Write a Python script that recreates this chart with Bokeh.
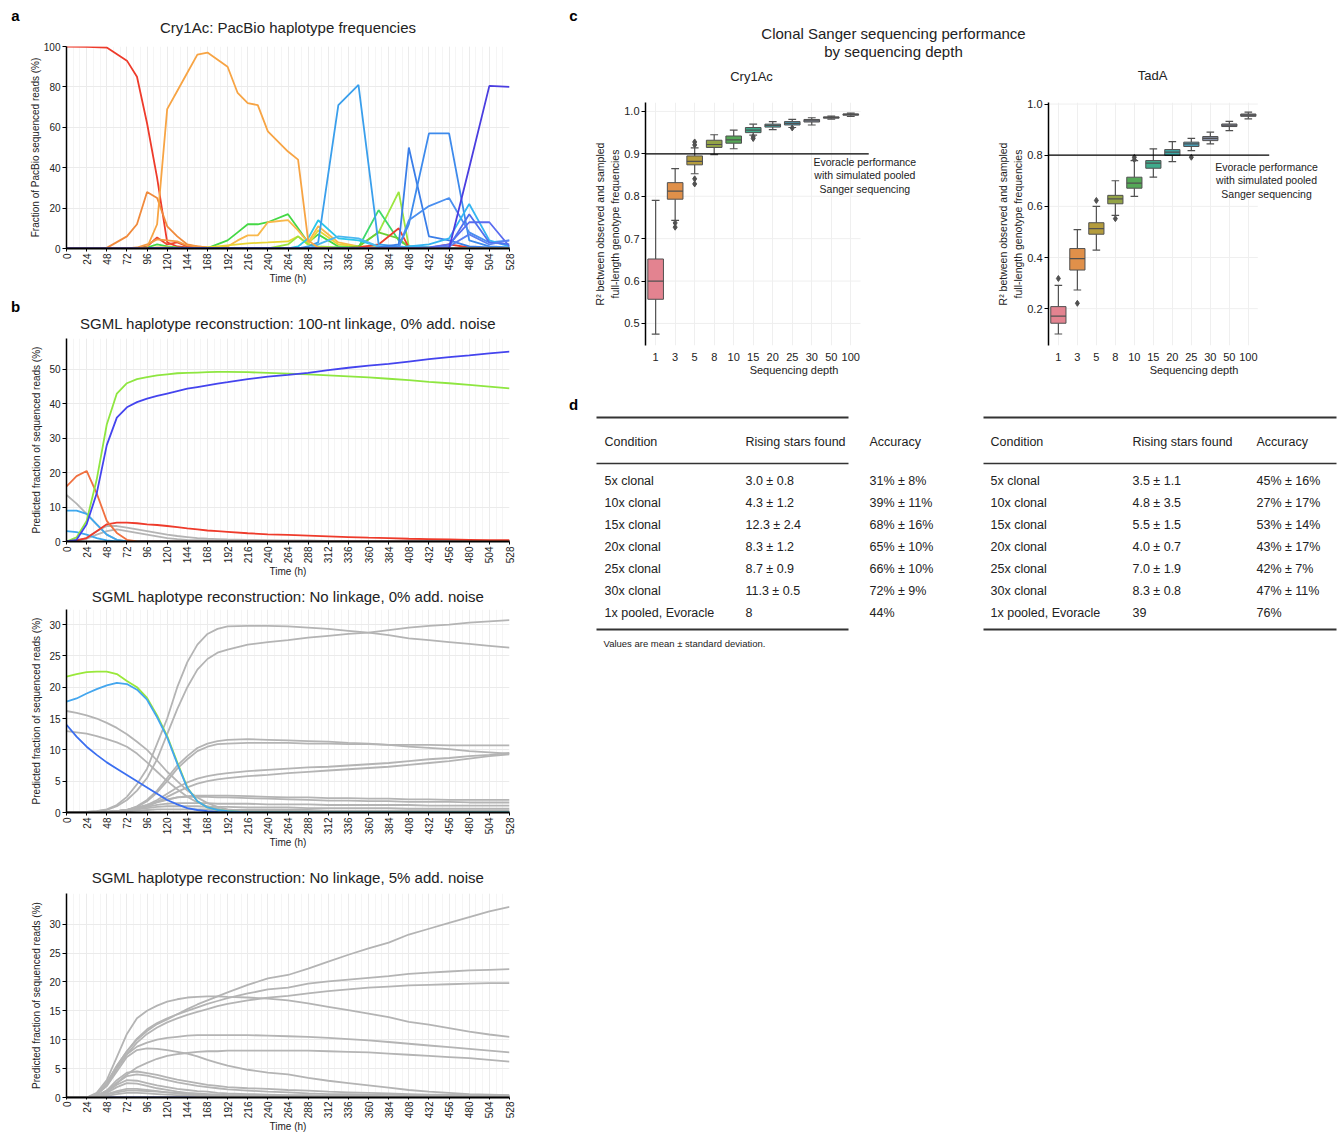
import math
from bokeh.plotting import figure
from bokeh.models import FixedTicker, Title, Label, ColumnDataSource, Range1d
from bokeh.layouts import column, row
from bokeh.embed import file_html
from bokeh.resources import INLINE
from bokeh.core.properties import value

FONT = "Liberation Sans"

# ---------------- DATA ----------------
time_ticks = [0, 24, 48, 72, 96, 120, 144, 168, 192, 216, 240, 264, 288, 312, 336, 360, 384, 408, 432, 456, 480, 504, 528]

# panel a : PacBio haplotype frequencies (%)
a_times = [0, 24, 48, 72, 84, 96, 108, 120, 132, 144, 156, 168, 192, 204, 216, 228, 240, 264, 276, 288, 300, 324, 348, 372, 396, 408, 432, 456, 480, 504, 528]
a_red     = [100, 99.8, 99.5, 93, 85, 62, 35, 3, 1, 0.5, 0.3, 0.2, 0, 0, 0, 0, 0, 0, 0, 0, 0, 0, 0, 0, 0, 0, 0, 0, 0, 0, 0]
a_orange  = [0, 0, 0, 0, 0, 0.5, 12, 69, 78, 87, 96, 97, 90, 77, 72, 71, 58, 48, 44, 4, 0.5, 0, 0, 0, 0, 0, 0, 0, 0, 0, 0]
a_orange2 = [0, 0, 0.3, 6, 12, 28, 25, 11, 6, 2, 1, 0.5, 0.3, 0, 0, 0, 0, 0, 0, 0, 0, 0, 0, 0, 0, 0, 0, 0, 0, 0, 0]
a_red2    = [0, 0, 0, 0, 0, 1, 5.5, 2, 3, 1, 0.5, 0.3, 0, 0, 0, 0, 0, 0, 0, 0, 0, 0, 0, 0, 0, 0, 0, 0, 0, 0, 0]
a_orange3 = [0, 0, 0, 0, 0.5, 2, 4.5, 4, 3.5, 1.5, 1, 0.5, 0, 0, 0, 0, 0, 0, 0, 0, 0, 0, 0, 0, 0, 0, 0, 0, 0, 0, 0]
a_green   = [0, 0, 0, 0, 0, 0.5, 2, 1, 0.5, 0.3, 0.2, 0.2, 4, 8, 12, 12, 13, 17, 10, 3, 7, 1, 0.5, 0, 0, 0, 0, 0, 0, 0, 0]
a_yorange = [0, 0, 0, 0, 0, 0, 0.5, 0.5, 0.3, 0.2, 0.2, 0.3, 1, 4, 6.5, 6.5, 13, 14, 9, 3, 11, 3, 1, 0.5, 0.3, 0, 0, 0, 0, 0, 0]
a_yellow  = [0, 0, 0, 0, 0, 0, 0, 0, 0, 0, 0, 0.5, 1.5, 2, 2.5, 2.8, 3, 3.5, 6, 2, 9, 2, 1, 0.5, 0.3, 0, 0, 0, 0, 0, 0]
a_lgreen  = [0, 0, 0, 0, 0, 0, 0, 0, 0, 0, 0, 0, 0, 0, 0, 0, 0, 2, 6, 2, 1, 0.5, 1, 8, 28, 1, 0.5, 0.3, 0.2, 0, 0]
a_green2  = [0, 0, 0, 0, 0, 0, 0, 0, 0, 0, 0, 0, 0, 0, 0, 0, 0, 0, 0, 0, 0, 0.5, 0.5, 19, 4, 1, 0.5, 0.3, 0.2, 0, 0]
a_green3  = [0, 0, 0, 0, 0, 0, 0, 0, 0, 0, 0, 0, 0, 0, 0, 0, 0, 0, 0, 0, 0, 0, 1, 8, 5, 0.5, 0.3, 0.2, 0.1, 0, 0]
a_red3    = [0, 0, 0, 0, 0, 0, 0, 0, 0, 0, 0, 0, 0, 0, 0, 0, 0, 0, 0, 0, 0, 0, 0.5, 2, 10, 0.5, 0.3, 2, 0.5, 0, 0]
a_cyan    = [0, 0, 0, 0, 0, 0, 0, 0, 0, 0, 0, 0, 0, 0, 0, 0, 0, 0, 1, 5, 14, 5, 4, 1, 0.5, 0.5, 0.3, 0.3, 0.2, 0, 0]
a_sky     = [0, 0, 0, 0, 0, 0, 0, 0, 0, 0, 0, 0, 0, 0, 0, 0, 0, 0, 0, 1, 3, 71, 81, 2, 1, 0.5, 0.3, 0.2, 0.2, 0, 0]
a_cyan2   = [0, 0, 0, 0, 0, 0, 0, 0, 0, 0, 0, 0, 0, 0, 0, 0, 0, 0, 0, 0, 2, 6, 5, 1, 0.5, 1, 0.5, 0.3, 0.2, 0.1, 0]
a_blue1   = [0, 0, 0, 0, 0, 0, 0, 0, 0, 0, 0, 0, 0, 0, 0, 0, 0, 0, 0, 0, 0, 0, 0, 0.5, 2, 50, 6, 4, 1, 0.5, 0.3]
a_blue2   = [0, 0, 0, 0, 0, 0, 0, 0, 0, 0, 0, 0, 0, 0, 0, 0, 0, 0, 0, 0, 0, 0, 0, 0.3, 1, 12, 57, 57, 4, 1, 0.5]
a_blue3   = [0, 0, 0, 0, 0, 0, 0, 0, 0, 0, 0, 0, 0, 0, 0, 0, 0, 0, 0, 0, 0, 0, 0, 0, 0.5, 14, 21, 25, 8, 3, 4]
a_cyan3   = [0, 0, 0, 0, 0, 0, 0, 0, 0, 0, 0, 0, 0, 0, 0, 0, 0, 0, 0, 0, 0, 0, 0, 0, 0, 1, 2, 5, 22, 4, 1]
a_blue4   = [0, 0, 0, 0, 0, 0, 0, 0, 0, 0, 0, 0, 0, 0, 0, 0, 0, 0, 0, 0, 0, 0, 0, 0, 0, 0, 0.5, 2, 13, 13, 1]
a_blue5   = [0, 0, 0, 0, 0, 0, 0, 0, 0, 0, 0, 0, 0, 0, 0, 0, 0, 0, 0, 0, 0, 0, 0, 0, 0, 0, 0.3, 1, 17, 3, 2]
a_blue6   = [0, 0, 0, 0, 0, 0, 0, 0, 0, 0, 0, 0, 0, 0, 0, 0, 0, 0, 0, 0, 0, 0, 0, 0, 0, 0, 0, 1, 7, 2, 4]
a_indigo  = [0, 0, 0, 0, 0, 0, 0, 0, 0, 0, 0, 0, 0, 0, 0, 0, 0, 0, 0, 0, 0, 0, 0, 0, 0, 0, 0, 0, 40, 80.5, 80]

# panel b : SGML reconstructions (%)
b_times = [0, 12, 24, 36, 48, 60, 72, 84, 96, 108, 120, 132, 144, 156, 168, 180, 192, 216, 240, 264, 288, 312, 336, 360, 384, 408, 432, 456, 480, 504, 528]

b1_green  = [0, 1.2, 6, 18, 34, 43, 46, 47.2, 47.8, 48.3, 48.6, 48.9, 49.0, 49.1, 49.2, 49.3, 49.3, 49.2, 49.0, 48.8, 48.6, 48.3, 48.0, 47.7, 47.3, 46.9, 46.4, 46.0, 45.5, 45.0, 44.5]
b1_blue   = [0, 0.5, 5, 14, 28, 36, 39, 40.5, 41.5, 42.3, 43.0, 43.7, 44.4, 44.9, 45.4, 45.9, 46.3, 47.2, 47.9, 48.4, 49.0, 49.8, 50.5, 51.1, 51.6, 52.3, 53.0, 53.6, 54.1, 54.7, 55.2]
b1_orange = [16, 19, 20.5, 14, 6, 2.5, 0.5, 0, 0, 0, 0, 0, 0, 0, 0, 0, 0, 0, 0, 0, 0, 0, 0, 0, 0, 0, 0, 0, 0, 0, 0]
b1_red    = [0, 0.3, 1, 3, 5, 5.5, 5.5, 5.3, 5.0, 4.8, 4.5, 4.2, 3.8, 3.5, 3.2, 3.0, 2.8, 2.4, 2.1, 1.9, 1.7, 1.5, 1.3, 1.1, 1.0, 0.8, 0.7, 0.6, 0.5, 0.4, 0.4]
b1_gray1  = [13.5, 11, 8, 5, 2, 0.5, 0.1, 0, 0, 0, 0, 0, 0, 0, 0, 0, 0, 0, 0, 0, 0, 0, 0, 0, 0, 0, 0, 0, 0, 0, 0]
b1_gray2  = [0, 0.3, 1, 3, 4.5, 4.5, 4, 3.5, 3, 2.5, 2, 1.6, 1.3, 1.0, 0.8, 0.7, 0.6, 0.5, 0.4, 0.3, 0.3, 0.2, 0.2, 0.2, 0.1, 0.1, 0.1, 0.1, 0.1, 0.1, 0.1]
b1_gray3  = [0, 0.2, 0.8, 2, 3, 3.5, 3, 2.5, 2, 1.5, 1, 0.7, 0.5, 0.4, 0.3, 0.2, 0.2, 0.1, 0.1, 0, 0, 0, 0, 0, 0, 0, 0, 0, 0, 0, 0]
b1_sky    = [9, 9, 8, 5, 2, 0.5, 0, 0, 0, 0, 0, 0, 0, 0, 0, 0, 0, 0, 0, 0, 0, 0, 0, 0, 0, 0, 0, 0, 0, 0, 0]
b1_sky2   = [3, 2.7, 2, 1, 0.3, 0, 0, 0, 0, 0, 0, 0, 0, 0, 0, 0, 0, 0, 0, 0, 0, 0, 0, 0, 0, 0, 0, 0, 0, 0, 0]

b2_g1  = [16.2, 15.9, 15.5, 15.0, 14.3, 13.5, 12.5, 11.3, 10.0, 8.3, 6.5, 5.0, 3.5, 2.4, 1.5, 0.9, 0.5, 0.2, 0.1, 0, 0, 0, 0, 0, 0, 0, 0, 0, 0, 0, 0]
b2_g2  = [13.0, 12.8, 12.6, 12.2, 11.7, 11.2, 10.5, 9.4, 8.0, 6.5, 5.0, 3.7, 2.5, 1.6, 1.0, 0.6, 0.3, 0.1, 0, 0, 0, 0, 0, 0, 0, 0, 0, 0, 0, 0, 0]
b2_g3  = [0, 0, 0.1, 0.2, 0.5, 1.2, 2.5, 4.5, 7, 11, 15, 20, 24, 26.8, 28.5, 29.3, 29.7, 29.8, 29.8, 29.7, 29.5, 29.3, 29.0, 28.7, 28.3, 27.8, 27.5, 27.2, 26.9, 26.6, 26.3]
b2_g4  = [0, 0, 0.1, 0.2, 0.4, 1.0, 2.0, 3.5, 5.5, 8.5, 12.5, 16.5, 20, 22.8, 24.5, 25.5, 26, 26.8, 27.2, 27.5, 27.9, 28.2, 28.5, 28.7, 29.1, 29.5, 29.8, 30.0, 30.3, 30.5, 30.7]
b2_g5  = [0, 0, 0, 0, 0.1, 0.2, 0.4, 1.0, 2.0, 3.5, 5.5, 7.5, 9.0, 10.3, 11.0, 11.4, 11.6, 11.7, 11.6, 11.5, 11.4, 11.3, 11.1, 11.0, 10.8, 10.5, 10.3, 10.1, 9.8, 9.6, 9.4]
b2_g6  = [0, 0, 0, 0, 0.1, 0.2, 0.4, 0.9, 1.8, 3.2, 5.0, 7.0, 8.5, 9.8, 10.5, 10.9, 11.0, 11.1, 11.1, 11.1, 11.0, 11.0, 10.9, 10.9, 10.8, 10.8, 10.8, 10.7, 10.7, 10.7, 10.7]
b2_g7  = [0, 0, 0, 0, 0.1, 0.2, 0.3, 0.6, 1.2, 2.0, 3.0, 4.0, 4.8, 5.4, 5.8, 6.1, 6.3, 6.6, 6.8, 7.0, 7.2, 7.3, 7.5, 7.7, 7.9, 8.2, 8.5, 8.7, 9.0, 9.2, 9.5]
b2_g8  = [0, 0, 0, 0, 0.1, 0.2, 0.3, 0.5, 1.0, 1.7, 2.5, 3.3, 4.0, 4.6, 5.0, 5.3, 5.5, 5.8, 6.0, 6.3, 6.5, 6.7, 6.9, 7.1, 7.3, 7.6, 7.9, 8.2, 8.6, 9.0, 9.3]
b2_g9  = [0, 0, 0, 0, 0.1, 0.2, 0.4, 0.7, 1.1, 1.6, 2.0, 2.4, 2.6, 2.7, 2.7, 2.7, 2.7, 2.6, 2.5, 2.4, 2.4, 2.3, 2.3, 2.2, 2.2, 2.1, 2.1, 2.0, 2.0, 2.0, 2.0]
b2_g10 = [0, 0, 0, 0, 0.1, 0.2, 0.4, 0.8, 1.2, 1.7, 2.1, 2.4, 2.5, 2.5, 2.5, 2.4, 2.4, 2.3, 2.2, 2.1, 2.0, 1.9, 1.9, 1.8, 1.8, 1.7, 1.7, 1.7, 1.6, 1.6, 1.6]
b2_g11 = [0, 0, 0, 0, 0.1, 0.2, 0.4, 0.6, 0.9, 1.2, 1.4, 1.5, 1.5, 1.5, 1.5, 1.4, 1.4, 1.4, 1.3, 1.3, 1.3, 1.2, 1.2, 1.2, 1.2, 1.2, 1.1, 1.1, 1.1, 1.1, 1.1]
b2_g12 = [0, 0, 0, 0, 0.1, 0.1, 0.3, 0.5, 0.7, 0.9, 1.0, 1.0, 1.0, 1.0, 0.9, 0.9, 0.9, 0.8, 0.8, 0.8, 0.7, 0.7, 0.7, 0.7, 0.7, 0.6, 0.6, 0.6, 0.6, 0.6, 0.6]
b2_g13 = [0, 0, 0, 0, 0, 0.1, 0.2, 0.3, 0.4, 0.5, 0.5, 0.5, 0.5, 0.5, 0.5, 0.4, 0.4, 0.4, 0.4, 0.4, 0.4, 0.3, 0.3, 0.3, 0.3, 0.3, 0.3, 0.3, 0.3, 0.3, 0.3]
b2_blue  = [14, 12.1, 10.5, 9.2, 8.0, 7.0, 6.0, 5.0, 4.0, 3.0, 2.0, 1.3, 0.7, 0.4, 0.2, 0.1, 0.05, 0, 0, 0, 0, 0, 0, 0, 0, 0, 0, 0, 0, 0, 0]
b2_green = [21.7, 22.1, 22.4, 22.5, 22.5, 22.1, 21.0, 20.0, 18.3, 15.5, 12.2, 8.0, 4.0, 1.8, 0.8, 0.4, 0.2, 0, 0, 0, 0, 0, 0, 0, 0, 0, 0, 0, 0, 0, 0]
b2_sky   = [17.7, 18.2, 19.0, 19.7, 20.3, 20.7, 20.5, 19.6, 18.0, 15.2, 12.0, 7.8, 3.9, 1.8, 0.8, 0.4, 0.2, 0, 0, 0, 0, 0, 0, 0, 0, 0, 0, 0, 0, 0, 0]

b3_h1  = [0, 0, 0, 0.5, 2.5, 5.5, 8, 10, 11.5, 12.7, 13.5, 14.4, 15.3, 16.1, 16.8, 17.5, 18.2, 19.5, 20.6, 21.2, 22.3, 23.5, 24.7, 25.8, 26.8, 28.2, 29.2, 30.2, 31.2, 32.2, 33.0]
b3_h2  = [0, 0, 0, 0.5, 2.5, 5.5, 8, 10.2, 11.8, 12.9, 13.7, 14.4, 15.0, 15.6, 16.2, 16.7, 17.2, 18.0, 18.7, 19.0, 19.7, 20.1, 20.4, 20.7, 21.0, 21.4, 21.6, 21.8, 22.0, 22.1, 22.2]
b3_h3  = [0, 0, 0, 0.5, 2.3, 5, 7.5, 9.5, 11.0, 12.1, 13.0, 13.7, 14.3, 14.8, 15.3, 15.8, 16.2, 16.8, 17.3, 17.6, 18.0, 18.4, 18.7, 19.0, 19.2, 19.4, 19.5, 19.6, 19.7, 19.8, 19.8]
b3_h4  = [0, 0, 0, 0.8, 3, 7, 11, 13.7, 15.0, 15.9, 16.6, 17.0, 17.3, 17.4, 17.5, 17.5, 17.4, 17.3, 17.1, 16.8, 16.3, 15.7, 15.1, 14.5, 13.9, 13.1, 12.6, 12.0, 11.4, 10.9, 10.5]
b3_h5  = [0, 0, 0, 0.5, 2, 5, 7.5, 8.8, 9.5, 10.0, 10.3, 10.5, 10.7, 10.8, 10.8, 10.8, 10.8, 10.8, 10.7, 10.6, 10.5, 10.3, 10.1, 9.9, 9.6, 9.3, 9.0, 8.7, 8.4, 8.1, 7.8]
b3_h6  = [0, 0, 0, 0.3, 1.2, 2.5, 4, 5.2, 6.0, 6.7, 7.2, 7.5, 7.7, 7.9, 8.0, 8.0, 8.1, 8.1, 8.1, 8.1, 8.1, 8.0, 7.9, 7.8, 7.6, 7.4, 7.2, 7.0, 6.8, 6.5, 6.2]
b3_h7  = [0, 0, 0, 0.5, 2, 4.5, 7, 8.2, 8.5, 8.4, 8.2, 7.9, 7.6, 7.1, 6.5, 6.0, 5.5, 4.8, 4.3, 4.0, 3.4, 2.9, 2.5, 2.1, 1.7, 1.3, 1.0, 0.8, 0.6, 0.5, 0.4]
b3_h8  = [0, 0, 0, 0.3, 1.2, 3, 4.3, 4.5, 4.2, 3.9, 3.5, 3.1, 2.8, 2.5, 2.2, 2.0, 1.8, 1.6, 1.5, 1.3, 1.2, 1.0, 0.9, 0.8, 0.7, 0.6, 0.5, 0.5, 0.4, 0.4, 0.3]
b3_h9  = [0, 0, 0, 0.3, 1, 2.5, 3.7, 4.0, 3.8, 3.4, 3.0, 2.6, 2.3, 2.0, 1.8, 1.6, 1.4, 1.2, 1.0, 0.9, 0.7, 0.6, 0.6, 0.5, 0.5, 0.4, 0.4, 0.3, 0.3, 0.3, 0.3]
b3_h10 = [0, 0, 0, 0.3, 1, 2.2, 3.0, 2.9, 2.5, 2.1, 1.8, 1.5, 1.3, 1.1, 1.0, 0.8, 0.7, 0.6, 0.5, 0.4, 0.4, 0.3, 0.3, 0.3, 0.2, 0.2, 0.2, 0.2, 0.2, 0.2, 0.2]
b3_h11 = [0, 0, 0, 0.2, 0.8, 1.8, 2.5, 2.4, 2.0, 1.6, 1.3, 1.0, 0.8, 0.7, 0.6, 0.5, 0.4, 0.3, 0.3, 0.2, 0.2, 0.2, 0.2, 0.1, 0.1, 0.1, 0.1, 0.1, 0.1, 0.1, 0.1]
b3_h12 = [0, 0, 0, 0.2, 0.6, 1.1, 1.5, 1.5, 1.3, 1.1, 0.9, 0.7, 0.6, 0.5, 0.4, 0.3, 0.3, 0.2, 0.2, 0.2, 0.1, 0.1, 0.1, 0.1, 0.1, 0.1, 0.1, 0.1, 0.1, 0.1, 0.1]
b3_h13 = [0, 0, 0, 0.1, 0.5, 0.9, 1.2, 1.2, 1.1, 1.0, 0.9, 0.8, 0.7, 0.6, 0.5, 0.5, 0.4, 0.4, 0.3, 0.3, 0.3, 0.2, 0.2, 0.2, 0.2, 0.2, 0.2, 0.2, 0.2, 0.2, 0.2]
b3_h14 = [0, 0, 0, 0.1, 0.3, 0.6, 0.8, 0.8, 0.7, 0.6, 0.5, 0.4, 0.4, 0.3, 0.3, 0.3, 0.2, 0.2, 0.2, 0.2, 0.1, 0.1, 0.1, 0.1, 0.1, 0.1, 0.1, 0.1, 0.1, 0.1, 0.1]
b3_zero = [0, 0, 0, 0, 0, 0, 0, 0, 0, 0, 0, 0, 0, 0, 0, 0, 0, 0, 0, 0, 0, 0, 0, 0, 0, 0, 0, 0, 0, 0, 0]

# panel c : R^2 distributions by sequencing depth
depths = ["1", "3", "5", "8", "10", "15", "20", "25", "30", "50", "100"]
cry_q1  = [0.557, 0.793, 0.874, 0.915, 0.925, 0.950, 0.963, 0.968, 0.975, 0.984, 0.991]
cry_med = [0.600, 0.812, 0.882, 0.922, 0.933, 0.956, 0.967, 0.972, 0.978, 0.986, 0.993]
cry_q3  = [0.652, 0.832, 0.895, 0.932, 0.942, 0.962, 0.970, 0.976, 0.981, 0.987, 0.994]
cry_lo  = [0.475, 0.743, 0.853, 0.898, 0.912, 0.944, 0.957, 0.962, 0.968, 0.982, 0.988]
cry_hi  = [0.790, 0.865, 0.914, 0.945, 0.956, 0.970, 0.976, 0.981, 0.985, 0.989, 0.996]
cry_out_depth = ["3", "3", "5", "5", "5", "5", "15", "15", "25"]
cry_out_r2    = [0.737, 0.727, 0.928, 0.921, 0.841, 0.829, 0.940, 0.936, 0.961]
cry_evoracle = 0.9

tad_q1  = [0.143, 0.351, 0.491, 0.610, 0.671, 0.749, 0.799, 0.834, 0.857, 0.912, 0.952]
tad_med = [0.171, 0.396, 0.513, 0.629, 0.691, 0.769, 0.812, 0.844, 0.866, 0.917, 0.957]
tad_q3  = [0.208, 0.435, 0.536, 0.643, 0.714, 0.779, 0.822, 0.851, 0.873, 0.922, 0.961]
tad_lo  = [0.101, 0.273, 0.429, 0.565, 0.639, 0.714, 0.775, 0.818, 0.844, 0.896, 0.942]
tad_hi  = [0.291, 0.509, 0.600, 0.700, 0.779, 0.825, 0.853, 0.866, 0.890, 0.932, 0.968]
tad_out_depth = ["1", "3", "5", "8", "10", "10", "25"]
tad_out_r2    = [0.318, 0.221, 0.623, 0.552, 0.792, 0.783, 0.792]
tad_evoracle = 0.8

# panel d : tables
table_header = ["Condition", "Rising stars found", "Accuracy"]
conditions = ["5x clonal", "10x clonal", "15x clonal", "20x clonal", "25x clonal", "30x clonal", "1x pooled, Evoracle"]
cry_rising = ["3.0 ± 0.8", "4.3 ± 1.2", "12.3 ± 2.4", "8.3 ± 1.2", "8.7 ± 0.9", "11.3 ± 0.5", "8"]
cry_accuracy = ["31% ± 8%", "39% ± 11%", "68% ± 16%", "65% ± 10%", "66% ± 10%", "72% ± 9%", "44%"]
tad_rising = ["3.5 ± 1.1", "4.8 ± 3.5", "5.5 ± 1.5", "4.0 ± 0.7", "7.0 ± 1.9", "8.3 ± 0.8", "39"]
tad_accuracy = ["45% ± 16%", "27% ± 17%", "53% ± 14%", "43% ± 17%", "42% ± 7%", "47% ± 11%", "76%"]

# ---------------- STYLES ----------------
GRAY = "#b4b4b4"
TXT = "#222222"
a_series = [
    (a_red, "#ee3b2b"), (a_orange2, "#f08a3c"), (a_red2, "#ee4a30"), (a_orange3, "#f39a45"),
    (a_green, "#45d845"), (a_yorange, "#f9b84a"), (a_yellow, "#e9d535"), (a_lgreen, "#9be63f"),
    (a_green2, "#3fd96b"), (a_green3, "#6ccf35"), (a_red3, "#ea3e2d"), (a_cyan, "#2cc6ea"),
    (a_cyan2, "#4cb8f0"), (a_sky, "#3a9fec"), (a_blue1, "#3a7ee8"), (a_blue2, "#3d8aec"),
    (a_blue3, "#4a8ff0"), (a_cyan3, "#35b5f2"), (a_blue4, "#5a6cf0"), (a_blue5, "#4f70ee"),
    (a_blue6, "#5c80f0"), (a_orange, "#f7a444"), (a_indigo, "#4a3de0"),
]
b1_series = [(b1_gray3, GRAY), (b1_gray2, GRAY), (b1_gray1, GRAY), (b1_sky2, "#3fa8ee"), (b1_sky, "#3fa8ee"),
             (b1_red, "#ee3b2b"), (b1_orange, "#f07040"), (b1_green, "#8ee640"), (b1_blue, "#4444ee")]
b2_series = [(s, GRAY) for s in [b2_g13, b2_g12, b2_g11, b2_g10, b2_g9, b2_g8, b2_g7, b2_g6, b2_g5,
                                 b2_g4, b2_g3, b2_g2, b2_g1]] + [(b2_blue, "#3b6ff0"), (b2_green, "#99e83a"), (b2_sky, "#44a6ee")]
b3_series = [(b3_zero, "#2a3fa0")] + [(s, GRAY) for s in [b3_h14, b3_h13, b3_h12, b3_h11, b3_h10, b3_h9, b3_h8,
                                                          b3_h7, b3_h6, b3_h5, b3_h4, b3_h3, b3_h2, b3_h1]]
box_colors = ["#e38390", "#e0904a", "#b49c3d", "#93a346", "#55a857", "#3fab8c", "#3ea8a6", "#4a9fb8",
              "#8790a6", "#85869a", "#7a7a84"]

STRIP = 25  # width of the strip that holds the panel letters a / b


def blank_fig(width, height):
    p = figure(width=width, height=height, x_range=Range1d(0, width), y_range=Range1d(height, 0),
               output_backend="svg", toolbar_location=None, min_border=0,
               x_axis_location=None, y_axis_location=None)
    p.grid.visible = False
    p.outline_line_color = None
    return p


def put_text(p, xs, ys, texts, size, bold=False, align="center", color=TXT):
    p.text(x=xs, y=ys, text=texts, text_font=value(FONT), text_font_size=size,
           text_font_style="bold" if bold else "normal", text_align=align,
           text_baseline="middle", text_color=color)


def style_axis(ax, size="10px"):
    ax.major_label_text_font = FONT
    ax.major_label_text_font_size = size
    ax.major_label_text_color = TXT
    ax.axis_label_text_font = FONT
    ax.axis_label_text_font_size = size
    ax.axis_label_text_font_style = "normal"
    ax.axis_label_text_color = TXT
    ax.major_tick_line_color = "black"
    ax.major_tick_out = 4
    ax.major_tick_in = 0
    ax.minor_tick_line_color = None
    ax.axis_line_color = "black"
    ax.major_label_standoff = 2


def time_fig(height, left, top, bottom, ymax, yticks, title, ylabel, series, times, tstand, ylstand,
             tick_out=3, lab_stand=1):
    p = figure(width=540 - STRIP, height=height, x_range=Range1d(0, 528), y_range=Range1d(0, ymax),
               output_backend="svg", toolbar_location=None,
               min_border_left=left - STRIP, min_border_right=31, min_border_top=top, min_border_bottom=bottom)
    p.title.text = title
    p.title.align = "center"
    p.title.offset = -17
    p.title.text_font = FONT
    p.title.text_font_size = "15px"
    p.title.text_font_style = "normal"
    p.title.text_color = TXT
    p.title.standoff = tstand
    p.xaxis.ticker = FixedTicker(ticks=time_ticks, minor_ticks=list(range(0, 529, 8)))
    p.yaxis.ticker = FixedTicker(ticks=yticks)
    p.xaxis.major_label_orientation = math.pi / 2
    style_axis(p.xaxis[0])
    style_axis(p.yaxis[0])
    p.xaxis.major_tick_out = tick_out
    p.xaxis.major_label_standoff = lab_stand
    p.xaxis.axis_line_width = 2.2
    p.yaxis.axis_line_width = 1.5
    p.xaxis.axis_label = "Time (h)"
    p.xaxis.axis_label_standoff = 0
    p.yaxis.axis_label = ylabel
    p.yaxis.axis_label_standoff = ylstand
    p.xgrid.grid_line_color = "#ebebeb"
    p.xgrid.minor_grid_line_color = "#f5f5f5"
    p.ygrid.grid_line_color = "#ebebeb"
    p.outline_line_color = None
    src = ColumnDataSource(dict(xs=[times for _ in series], ys=[s for s, c in series], color=[c for s, c in series]))
    p.multi_line(xs="xs", ys="ys", line_color="color", line_width=1.8, source=src)
    return p


fa = time_fig(300, 66, 46, 52, 100, [0, 20, 40, 60, 80, 100], "Cry1Ac: PacBio haplotype frequencies",
              "Fraction of PacBio sequenced reads (%)", a_series, a_times, 22, 0)
fb1 = time_fig(280, 61, 38, 39, 59, [0, 10, 20, 30, 40, 50],
               "SGML haplotype reconstruction: 100-nt linkage, 0% add. noise",
               "Predicted fraction of sequenced reads (%)", b1_series, b_times, 14, 4)
fb2 = time_fig(278, 61, 28, 46, 32.4, [0, 5, 10, 15, 20, 25, 30],
               "SGML haplotype reconstruction: No linkage, 0% add. noise",
               "Predicted fraction of sequenced reads (%)", b2_series, b_times, 10, 4)
fb3 = time_fig(277, 61, 35, 37, 35.3, [0, 5, 10, 15, 20, 25, 30],
               "SGML haplotype reconstruction: No linkage, 5% add. noise",
               "Predicted fraction of sequenced reads (%)", b3_series, b_times, 16, 4, tick_out=2, lab_stand=0)

strip = blank_fig(STRIP, 1135)
put_text(strip, [15, 15], [15, 306], ["a", "b"], "15px", bold=True, color="black")

# ---- panel c header (letter, overall title, sub-titles) ----
hdr = blank_fig(802, 90)
put_text(hdr, [33], [15], ["c"], "15px", bold=True, color="black")
put_text(hdr, [353, 353], [33, 51], ["Clonal Sanger sequencing performance", "by sequencing depth"], "15px")
put_text(hdr, [211, 612], [76, 75], ["Cry1Ac", "TadA"], "13px")


def box_fig(width, left, x_end, hline_end, yr, yticks, q1, med, q3, lo, hi, od, ov, hline, ann_x, ann_y):
    xs = list(range(len(depths)))
    p = figure(width=width, height=295, x_range=Range1d(-0.52, x_end), y_range=Range1d(*yr),
               output_backend="svg", toolbar_location=None,
               min_border_left=left, min_border_right=3, min_border_top=12, min_border_bottom=40)
    p.add_layout(Title(text="full-length genotype frequencies", align="center", text_font=FONT,
                       text_font_size="10.5px", text_font_style="normal", text_color=TXT, standoff=1), "left")
    p.add_layout(Title(text="R² between observed and sampled", align="center", text_font=FONT,
                       text_font_size="10.5px", text_font_style="normal", text_color=TXT, standoff=1), "left")
    p.xaxis.ticker = FixedTicker(ticks=xs)
    p.xaxis.major_label_overrides = {i: d for i, d in enumerate(depths)}
    p.yaxis.ticker = FixedTicker(ticks=yticks)
    p.yaxis.major_label_overrides = {t: f"{t:.1f}" for t in yticks}
    style_axis(p.xaxis[0], "11px")
    style_axis(p.yaxis[0], "11px")
    p.xaxis.axis_line_color = None
    p.xaxis.major_tick_line_color = None
    p.xaxis.major_label_standoff = 3
    p.xaxis.axis_label = "Sequencing depth"
    p.xaxis.axis_label_standoff = 0
    p.yaxis.axis_line_width = 1.5
    p.xgrid.grid_line_color = "#efefef"
    p.ygrid.visible = False
    p.outline_line_color = None
    # horizontal grid lines limited to the box area
    p.segment(x0=[-0.52] * len(yticks), x1=[10.5] * len(yticks), y0=yticks, y1=yticks,
              line_color="#efefef", line_width=1)
    EDGE = "#505050"
    src = ColumnDataSource(dict(x=xs, q1=q1, med=med, q3=q3, lo=lo, hi=hi, color=box_colors,
                                xl=[x - 0.4 for x in xs], xr=[x + 0.4 for x in xs],
                                cl=[x - 0.2 for x in xs], cr=[x + 0.2 for x in xs]))
    p.segment(x0="x", y0="q3", x1="x", y1="hi", line_color=EDGE, line_width=1.2, source=src)
    p.segment(x0="x", y0="q1", x1="x", y1="lo", line_color=EDGE, line_width=1.2, source=src)
    p.segment(x0="cl", y0="hi", x1="cr", y1="hi", line_color=EDGE, line_width=1.2, source=src)
    p.segment(x0="cl", y0="lo", x1="cr", y1="lo", line_color=EDGE, line_width=1.2, source=src)
    p.vbar(x="x", width=0.8, top="q3", bottom="q1", fill_color="color", line_color=EDGE, line_width=1, source=src)
    p.segment(x0="xl", y0="med", x1="xr", y1="med", line_color=EDGE, line_width=1.2, source=src)
    p.scatter(x=[depths.index(d) for d in od], y=ov, marker="diamond", size=6, fill_color=EDGE, line_color=EDGE)
    p.segment(x0=[-0.52], x1=[hline_end], y0=[hline], y1=[hline], line_color="black", line_width=1.3)
    for t, y in zip(["Evoracle performance", "with simulated pooled", "Sanger sequencing"], ann_y):
        p.add_layout(Label(x=ann_x, y=y, text=t, text_align="center", text_baseline="middle",
                           text_font=FONT, text_font_size="10.5px", text_color=TXT))
    return p


fc1 = box_fig(405, 105, 14.7, 10.92, (0.448, 1.021), [0.5, 0.6, 0.7, 0.8, 0.9, 1.0],
              cry_q1, cry_med, cry_q3, cry_lo, cry_hi, cry_out_depth, cry_out_r2, cry_evoracle,
              10.72, [0.880, 0.849, 0.818])
fc2 = box_fig(397, 103, 14.8, 11.1, (0.056, 1.006), [0.2, 0.4, 0.6, 0.8, 1.0],
              tad_q1, tad_med, tad_q3, tad_lo, tad_hi, tad_out_depth, tad_out_r2, tad_evoracle,
              10.96, [0.755, 0.704, 0.650])

# ---- panel d tables ----
fd = blank_fig(802, 290)
put_text(fd, [33], [19], ["d"], "15px", bold=True, color="black")
tables = [(56, 308, [64, 205, 329], cry_rising, cry_accuracy), (443, 796, [450, 592, 716], tad_rising, tad_accuracy)]
for x0, x1, cols, rising, acc in tables:
    fd.segment(x0=[x0, x0, x0], x1=[x1, x1, x1], y0=[32, 78, 244], y1=[32, 78, 244],
               line_color="#333333", line_width=[2, 1.5, 2])
    put_text(fd, cols, [56, 56, 56], table_header, "12.5px", align="left")
    rows_y = [95 + 22 * i for i in range(len(conditions))]
    for cx, colvals in zip(cols, [conditions, rising, acc]):
        put_text(fd, [cx] * len(colvals), rows_y, colvals, "12.5px", align="left")
put_text(fd, [63], [258], ["Values are mean ± standard deviation."], "9.5px", align="left")

left_col = row(strip, column(fa, fb1, fb2, fb3))
right_col = column(hdr, row(fc1, fc2), fd)
layout = row(left_col, right_col)

with open("out.html", "w") as f:
    f.write(file_html(layout, INLINE))
